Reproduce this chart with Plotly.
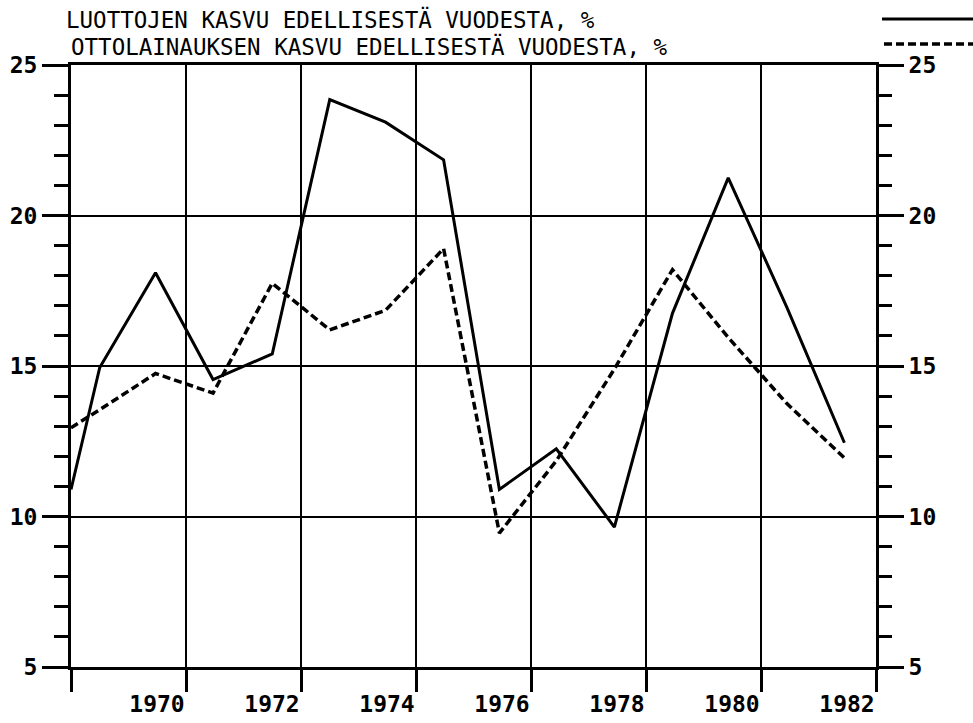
import plotly.graph_objects as go

# x positions (years, annual values plotted near mid-year)
x_pos = [1968.0, 1968.5, 1969.47, 1970.47, 1971.5, 1972.5, 1973.47, 1974.48,
         1975.45, 1976.44, 1977.45, 1978.46, 1979.43, 1980.45, 1981.45]
luotot = [10.9, 14.95, 18.1, 14.55, 15.4, 23.85, 23.1, 21.85,
          10.9, 12.25, 9.65, 16.75, 21.25, 16.95, 12.45]
ottolainaus = [12.95, 13.55, 14.75, 14.1, 17.75, 16.2, 16.85, 18.9,
               9.45, 11.85, 14.9, 18.2, 15.95, 13.75, 11.95]

x_ticks = [1968, 1970, 1972, 1974, 1976, 1978, 1980, 1982]
x_ticktext = ["", "1970", "1972", "1974", "1976", "1978", "1980", "1982"]
y_ticks = [5, 10, 15, 20, 25]

title1 = "LUOTTOJEN KASVU EDELLISESTÄ VUODESTA, %"
title2 = "OTTOLAINAUKSEN KASVU EDELLISESTÄ VUODESTA, %"

FONT = "DejaVu Sans Mono"
tickfont = dict(family=FONT, size=23, color="black", weight="bold")

fig = go.Figure()
fig.add_trace(go.Scatter(x=x_pos, y=luotot, mode="lines",
                         line=dict(color="black", width=3), yaxis="y"))
fig.add_trace(go.Scatter(x=x_pos, y=ottolainaus, mode="lines",
                         line=dict(color="black", width=3.5, dash="8px,4px"),
                         yaxis="y2"))

yax_common = dict(range=[5, 25], tickvals=y_ticks, ticks="outside",
                  tickwidth=3, tickcolor="black", showline=True, linewidth=3,
                  linecolor="black", zeroline=False, tickfont=tickfont,
                  automargin=False)

fig.update_layout(
    width=973, height=723, autosize=False,
    margin=dict(l=71, r=97, t=65, b=56),
    plot_bgcolor="white", paper_bgcolor="white",
    showlegend=False,
    xaxis=dict(range=[1968, 1982], tickvals=x_ticks, ticktext=x_ticktext,
               ticks="outside", ticklen=22, tickwidth=3, tickcolor="black",
               showgrid=True, gridcolor="black", gridwidth=2,
               showline=True, linewidth=3, linecolor="black", mirror=True,
               zeroline=False, ticklabelshift=-29, ticklabelstandoff=-8,
               automargin=False, tickfont=tickfont),
    yaxis=dict(**yax_common, side="left", ticklen=26, mirror=True,
               showgrid=True, gridcolor="black", gridwidth=2,
               minor=dict(dtick=1, ticks="outside", ticklen=14, tickwidth=3,
                          tickcolor="black", showgrid=False)),
    yaxis2=dict(**yax_common, side="right", overlaying="y", matches="y",
                ticklen=25, showgrid=False,
                minor=dict(dtick=1, ticks="outside", ticklen=13, tickwidth=3,
                           tickcolor="black", showgrid=False)),
)

# titles
pw = 973 - 71 - 97
ph = 723 - 65 - 56
def px_x(px):
    return (px - 71) / pw
def px_y(py):
    return (723 - 56 - py) / ph

fig.add_annotation(text=title1, xref="paper", yref="paper", x=px_x(64), y=px_y(20),
                   xanchor="left", yanchor="middle", showarrow=False,
                   font=dict(family=FONT, size=22.5, color="black"))
fig.add_annotation(text=title2, xref="paper", yref="paper", x=px_x(69), y=px_y(47),
                   xanchor="left", yanchor="middle", showarrow=False,
                   font=dict(family=FONT, size=22.5, color="black"))
# legend samples
fig.add_shape(type="line", xref="paper", yref="paper", x0=px_x(882), x1=px_x(975),
              y0=px_y(19), y1=px_y(19), line=dict(color="black", width=3))
fig.add_shape(type="line", xref="paper", yref="paper", x0=px_x(884), x1=px_x(975),
              y0=px_y(44), y1=px_y(44), line=dict(color="black", width=3.5, dash="8px,4px"))

fig.write_html("out.html", config={"displayModeBar": False},
               post_script="document.body.style.margin='0';document.body.style.padding='0';document.body.style.overflow='hidden';")
